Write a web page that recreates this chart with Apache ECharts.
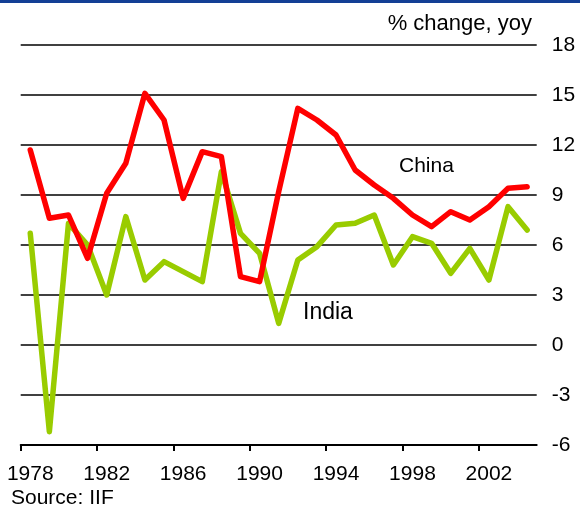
<!DOCTYPE html>
<html>
<head>
<meta charset="utf-8">
<script src="https://cdn.jsdelivr.net/npm/echarts@6/dist/echarts.min.js"></script>
<style>
html,body{margin:0;padding:0;background:#fff;}
#chart{width:580px;height:510px;}
</style>
</head>
<body>
<div id="chart"></div>
<script>
var years = ['1978','1979','1980','1981','1982','1983','1984','1985','1986','1987','1988','1989','1990','1991','1992','1993','1994','1995','1996','1997','1998','1999','2000','2001','2002','2003','2004'];
var china = [11.7, 7.6, 7.8, 5.2, 9.1, 10.9, 15.1, 13.5, 8.8, 11.6, 11.3, 4.1, 3.8, 9.2, 14.2, 13.5, 12.6, 10.5, 9.6, 8.8, 7.8, 7.1, 8.0, 7.5, 8.3, 9.4, 9.5];
var india = [6.7, -5.2, 7.3, 6.0, 3.0, 7.7, 3.9, 5.0, 4.4, 3.8, 10.4, 6.7, 5.5, 1.3, 5.1, 5.9, 7.2, 7.3, 7.8, 4.8, 6.5, 6.1, 4.3, 5.8, 3.9, 8.3, 6.9];
var yTicks = {min: -6, max: 18, step: 3};
var xLabelEvery = 4;

// categories whose left boundary carries a tick (the labelled years)
var tickIdx = [];
for (var i = 0; i < years.length; i += xLabelEvery) tickIdx.push([i, yTicks.min]);

var G = {left: 20.7, right: 43.3, top: 45, bottom: 65};
var FONT = '"Liberation Sans", Arial, sans-serif';
var chart = echarts.init(document.getElementById('chart'), null, {renderer: 'canvas'});
chart.setOption({
  animation: false,
  backgroundColor: '#fff',
  grid: {left: G.left, right: G.right, top: G.top, bottom: G.bottom, containLabel: false},
  xAxis: {
      type: 'category',
      data: years,
      boundaryGap: true,
      axisLine: {show: true, onZero: false, lineStyle: {color: '#000', width: 2}},
      axisTick: {show: false},
      axisLabel: {interval: xLabelEvery - 1, color: '#000', fontSize: 21, fontFamily: FONT, margin: 19},
      splitLine: {show: false}
  },
  yAxis: {
      type: 'value',
      position: 'right',
      min: yTicks.min, max: yTicks.max, interval: yTicks.step,
      axisLine: {show: false},
      axisTick: {show: false},
      axisLabel: {color: '#000', fontSize: 21, fontFamily: FONT, margin: 15, align: 'left'},
      splitLine: {show: true, lineStyle: {color: '#000', width: 1.6}}
  },
  series: [
    {name: 'India', type: 'line', data: india, symbol: 'none',
      lineStyle: {color: '#99cc00', width: 5.5, cap: 'round', join: 'round'}},
    {name: 'China', type: 'line', data: china, symbol: 'none',
      lineStyle: {color: '#ff0000', width: 5.5, cap: 'round', join: 'round'}},
    {
      name: 'ticks', type: 'custom', data: tickIdx, clip: false, silent: true,
      encode: {x: 0, y: 1},
      renderItem: function (params, api) {
        var p = api.coord([api.value(0), api.value(1)]);
        var half = api.size([1, 0])[0] / 2;
        var x = Math.round(p[0] - half);
        return {
          type: 'line',
          shape: {x1: x, y1: p[1], x2: x, y2: p[1] + 6},
          style: {stroke: '#000', lineWidth: 2}
        };
      }
    }
  ],
  graphic: [
    {type: 'rect', left: 0, top: 0, shape: {width: 580, height: 3}, style: {fill: '#133f95'}},
    {type: 'text', right: 48, top: 13, style: {text: '% change, yoy', font: '22px ' + FONT, fill: '#000'}},
    {type: 'text', left: 399, top: 156, style: {text: 'China', font: '21px ' + FONT, fill: '#000'}},
    {type: 'text', left: 303, top: 301, style: {text: 'India', font: '23px ' + FONT, fill: '#000'}},
    {type: 'text', left: 11, top: 488, style: {text: 'Source: IIF', font: '21px ' + FONT, fill: '#000'}}
  ]
});
</script>
</body>
</html>
